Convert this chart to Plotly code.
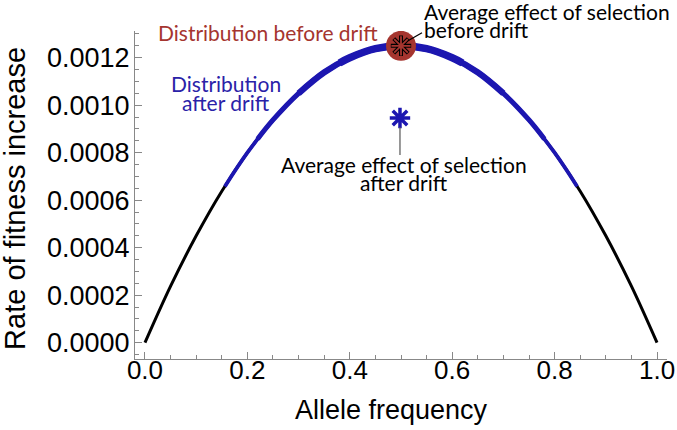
import plotly.graph_objects as go

# ---- data ----
allele_freq = [0.00, 0.05, 0.10, 0.15, 0.20, 0.25, 0.30, 0.35, 0.40, 0.45, 0.50,
               0.55, 0.60, 0.65, 0.70, 0.75, 0.80, 0.85, 0.90, 0.95, 1.00]
fitness_rate = [0.0, 0.000238, 0.00045, 0.000638, 0.0008, 0.000938, 0.00105, 0.001138,
                0.0012, 0.001238, 0.00125, 0.001238, 0.0012, 0.001138, 0.00105, 0.000938,
                0.0008, 0.000638, 0.00045, 0.000238, 0.0]

# blue band (distribution after drift), drawn in nested bands of increasing width
band_outer_p = [0.156, 0.20, 0.25, 0.30, 0.35, 0.40, 0.45, 0.50, 0.55, 0.60, 0.65, 0.70, 0.75, 0.80, 0.844]
band_outer_y = [0.000658, 0.0008, 0.000938, 0.00105, 0.001138, 0.0012, 0.001238, 0.00125,
                0.001238, 0.0012, 0.001138, 0.00105, 0.000938, 0.0008, 0.000658]
band_mid_p = [0.22, 0.25, 0.30, 0.35, 0.40, 0.45, 0.50, 0.55, 0.60, 0.65, 0.70, 0.75, 0.78]
band_mid_y = [0.000858, 0.000938, 0.00105, 0.001138, 0.0012, 0.001238, 0.00125, 0.001238,
              0.0012, 0.001138, 0.00105, 0.000938, 0.000858]
band_inner_p = [0.30, 0.35, 0.40, 0.45, 0.50, 0.55, 0.60, 0.65, 0.70]
band_inner_y = [0.00105, 0.001138, 0.0012, 0.001238, 0.00125, 0.001238, 0.0012, 0.001138, 0.00105]
band_core_p = [0.38, 0.40, 0.45, 0.50, 0.55, 0.60, 0.62]
band_core_y = [0.001178, 0.0012, 0.001238, 0.00125, 0.001238, 0.0012, 0.001178]

before_x, before_y = 0.5, 0.00125   # average effect before drift
after_x, after_y = 0.498, 0.000946  # average effect after drift

x_ticks = [0.0, 0.2, 0.4, 0.6, 0.8, 1.0]
y_ticks = [0.0, 0.0002, 0.0004, 0.0006, 0.0008, 0.0010, 0.0012]

RED = "#a5352f"
BLUE = "#1c16b0"
BLUE_TXT = "#2a22a8"
ANN_FONT = "Lato"
ANN_SIZE = 21

fig = go.Figure()
fig.add_trace(go.Scatter(x=allele_freq, y=fitness_rate, mode="lines", line_shape="spline",
                         line=dict(color="black", width=3), hoverinfo="skip"))
for px_, py_, w in [(band_outer_p, band_outer_y, 3.8), (band_mid_p, band_mid_y, 5),
                    (band_inner_p, band_inner_y, 6.2), (band_core_p, band_core_y, 7.5)]:
    fig.add_trace(go.Scatter(x=px_, y=py_, mode="lines", line_shape="spline",
                             line=dict(color=BLUE, width=w), hoverinfo="skip"))

# red circle with outlined asterisk
fig.add_trace(go.Scatter(x=[before_x], y=[before_y], mode="markers",
                         marker=dict(size=30, color=RED, line=dict(width=0))))
fig.add_trace(go.Scatter(x=[before_x], y=[before_y], mode="markers",
                         marker=dict(size=17, symbol="asterisk-open", color="black",
                                     line=dict(width=4, color="black"))))
fig.add_trace(go.Scatter(x=[before_x], y=[before_y], mode="markers",
                         marker=dict(size=16, symbol="asterisk-open", color=RED,
                                     line=dict(width=1.8, color=RED))))
# blue asterisk
fig.add_trace(go.Scatter(x=[after_x], y=[after_y], mode="markers",
                         marker=dict(size=17, symbol="asterisk-open", color=BLUE,
                                     line=dict(width=3.5, color=BLUE))))

# pointer lines
fig.add_shape(type="line", xref="x", yref="y", xsizemode="pixel", ysizemode="pixel",
              xanchor=after_x, yanchor=after_y, x0=0, x1=0, y0=-9, y1=-37,
              line=dict(color="#555555", width=1.2))
fig.add_shape(type="line", xref="x", yref="y", xsizemode="pixel", ysizemode="pixel",
              xanchor=before_x, yanchor=before_y, x0=7, x1=21, y0=5, y1=13,
              line=dict(color="black", width=1.2))

def ann(text, x, y, xshift, yshift, color, anchor):
    fig.add_annotation(text=text, x=x, y=y, xref="x", yref="y", showarrow=False,
                       xanchor=anchor, yanchor="middle", xshift=xshift, yshift=yshift,
                       font=dict(family=ANN_FONT, size=ANN_SIZE, color=color))

ann("Distribution before drift", before_x, before_y, -21, 13, RED, "right")
ann("Average effect of selection", before_x, before_y, 21, 34, "black", "left")
ann("before drift", before_x, before_y, 21, 16, "black", "left")
ann("Distribution", 0.158, before_y, 0, -38, BLUE_TXT, "center")
ann("after drift", 0.158, before_y, 0, -57, BLUE_TXT, "center")
ann("Average effect of selection", after_x, after_y, 4, -46, "black", "center")
ann("after drift", after_x, after_y, 4, -64, "black", "center")

AX_FONT = "Liberation Sans, Arial, sans-serif"
# axis titles
fig.add_annotation(text="Rate of fitness increase", xref="paper", yref="paper",
                   x=-0.2256, y=0.491, xanchor="center", yanchor="middle", textangle=-90,
                   showarrow=False, font=dict(family=AX_FONT, size=29, color="black"))
fig.add_annotation(text="Allele frequency", xref="paper", yref="paper",
                   x=0.483, y=-0.1555, xanchor="center", yanchor="middle",
                   showarrow=False, font=dict(family=AX_FONT, size=27, color="black"))

fig.update_layout(
    width=677, height=430, margin=dict(l=135, r=10, t=31, b=71),
    paper_bgcolor="white", plot_bgcolor="white", showlegend=False,
    xaxis=dict(range=[-0.0195, 1.0195], tickvals=x_ticks, tickformat=".1f", automargin=False,
               showgrid=False, zeroline=False, showline=True, linecolor="#888888", linewidth=1,
               ticks="inside", ticklen=7, tickcolor="#888888",
               minor=dict(dtick=0.05, tick0=0, ticks="inside", ticklen=4, tickcolor="#888888"),
               tickfont=dict(family=AX_FONT, size=26, color="black"), ticklabelstandoff=-12),
    yaxis=dict(range=[-0.0000686, 0.0013124], tickvals=y_ticks, tickformat=".4f", automargin=False,
               showgrid=False, zeroline=False, showline=True, linecolor="#888888", linewidth=1,
               ticks="inside", ticklen=7, tickcolor="#888888",
               minor=dict(dtick=0.00005, tick0=0, ticks="inside", ticklen=4, tickcolor="#888888"),
               tickfont=dict(family=AX_FONT, size=27, color="black"), ticklabelstandoff=-1),
)
fig.write_html("out.html", config={"displayModeBar": False},
               post_script="document.body.style.margin='0';")
